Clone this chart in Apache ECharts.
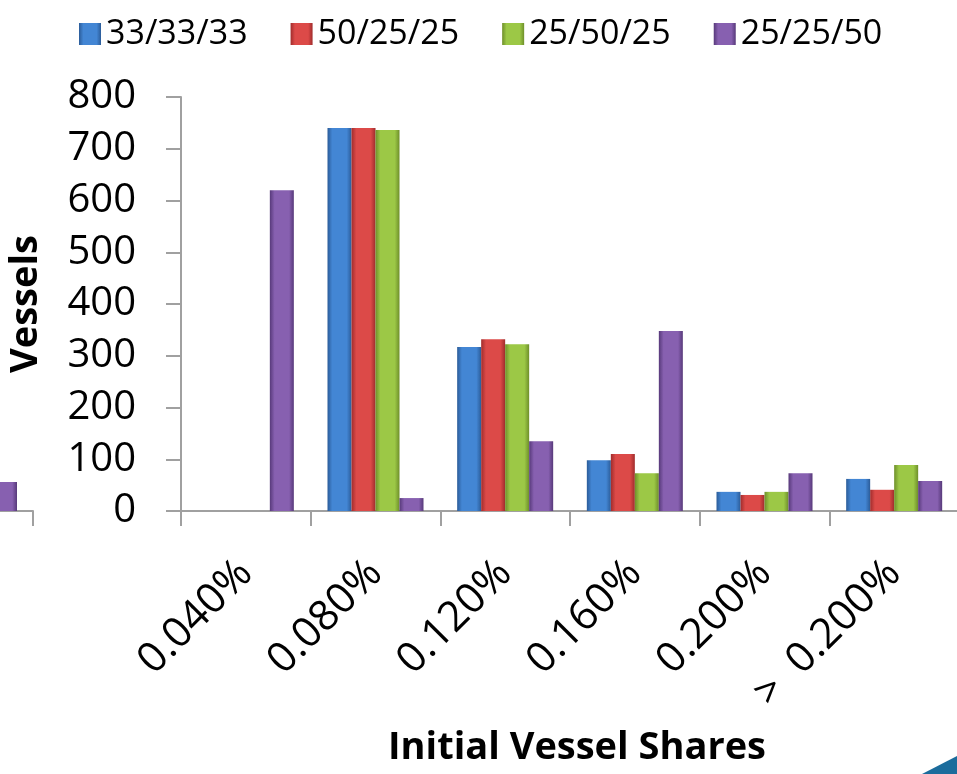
<!DOCTYPE html>
<html>
<head>
<meta charset="utf-8">
<script src="https://cdn.jsdelivr.net/npm/echarts@6/dist/echarts.min.js"></script>
<style>
  html, body { margin: 0; padding: 0; background: #fff; }
  #chart { width: 957px; height: 774px; }
</style>
</head>
<body>
<div id="chart"></div>
<script>
// categories (initial vessel share)
const categories = ['0.040%', '0.080%', '0.120%', '0.160%', '0.200%', '>  0.200%'];
const seriesNames = ['33/33/33', '50/25/25', '25/50/25', '25/25/50'];
// vessels per split
const split333333 = [0, 740, 317, 98, 37, 62];
const split502525 = [0, 740, 332, 110, 31, 41];
const split255025 = [0, 736, 322, 73, 37, 89];
const split252550 = [620, 25, 135, 348, 73, 58];
// neighbouring chart on the slide, only its last bar shows at the left edge
const leftPanelPurple = [56];
const yTicks = [0, 100, 200, 300, 400, 500, 600, 700, 800];

const palette = [
  { edge: '#2b5c99', mid: '#4386d4' },
  { edge: '#a02c2c', mid: '#dc4a48' },
  { edge: '#6e8f2a', mid: '#9cc846' },
  { edge: '#57397a', mid: '#8760b0' }
];

function barFill(c) {
  return new echarts.graphic.LinearGradient(0, 0, 1, 0, [
    { offset: 0, color: c.edge },
    { offset: 0.2, color: c.mid },
    { offset: 0.8, color: c.mid },
    { offset: 1, color: c.edge }
  ]);
}

const chart = echarts.init(document.getElementById('chart'));
const font = '"Open Sans", "Noto Sans", sans-serif';
const dataSets = [split333333, split502525, split255025, split252550];

const mainSeries = dataSets.map(function (d, i) {
  return {
    name: seriesNames[i],
    type: 'bar',
    xAxisIndex: 0,
    yAxisIndex: 0,
    data: d,
    barWidth: 24,
    barGap: '0%',
    itemStyle: { color: barFill(palette[i]) }
  };
});

const option = {
  backgroundColor: '#ffffff',
  animation: false,
  textStyle: { fontFamily: font },
  legend: {
    top: 12,
    left: 74,
    itemWidth: 22,
    itemHeight: 22,
    itemGap: 43,
    icon: 'rect',
    data: seriesNames.map(function (n, i) {
      return { name: n, itemStyle: { color: barFill(palette[i]) } };
    }),
    textStyle: { fontSize: 34, color: '#000', fontFamily: font }
  },
  grid: [
    { left: 181, top: 97, width: 778, height: 414, containLabel: false, outerBoundsMode: 'none' },
    { left: -23, top: 97, width: 56, height: 414, containLabel: false, outerBoundsMode: 'none' }
  ],
  xAxis: [
    {
      type: 'category',
      gridIndex: 0,
      data: categories,
      name: 'Initial Vessel Shares',
      nameLocation: 'middle',
      nameGap: 218,
      nameTextStyle: { fontSize: 38, fontWeight: 'bold', color: '#000', fontFamily: font, padding: [0, 0, 0, 14] },
      axisLine: { lineStyle: { color: '#a0a0a0', width: 2 } },
      axisTick: { show: true, length: 15, lineStyle: { color: '#a0a0a0', width: 2 } },
      axisLabel: { interval: 0, rotate: 45, margin: 56, fontSize: 42, color: '#000', fontFamily: font, hideOverlap: false },
      splitLine: { show: false }
    },
    {
      type: 'category',
      gridIndex: 1,
      data: [''],
      axisLine: { lineStyle: { color: '#a0a0a0', width: 2 } },
      axisTick: { show: true, length: 15, lineStyle: { color: '#a0a0a0', width: 2 } },
      axisLabel: { show: false }
    }
  ],
  yAxis: [
    {
      type: 'value',
      gridIndex: 0,
      min: 0,
      max: yTicks[yTicks.length - 1],
      interval: yTicks[1] - yTicks[0],
      name: 'Vessels',
      nameLocation: 'middle',
      nameRotate: 90,
      nameGap: 136,
      nameTextStyle: { fontSize: 38, fontWeight: 'bold', color: '#000', fontFamily: font },
      axisLine: { show: true, lineStyle: { color: '#a0a0a0', width: 2 } },
      axisTick: { show: true, length: 15, lineStyle: { color: '#a0a0a0', width: 2 } },
      axisLabel: { margin: 45, fontSize: 40, color: '#000', fontFamily: font },
      splitLine: { show: false }
    },
    {
      type: 'value',
      gridIndex: 1,
      min: 0,
      max: 800,
      show: false
    }
  ],
  series: mainSeries.concat([
    {
      type: 'bar',
      xAxisIndex: 1,
      yAxisIndex: 1,
      data: leftPanelPurple,
      barWidth: 24,
      itemStyle: { color: barFill(palette[3]) }
    }
  ]),
  graphic: [
    {
      type: 'polygon',
      shape: { points: [[922, 774], [957, 756], [957, 774]] },
      style: { fill: '#1b6c9c' },
      silent: true
    }
  ]
};

chart.setOption(option);
</script>
</body>
</html>
